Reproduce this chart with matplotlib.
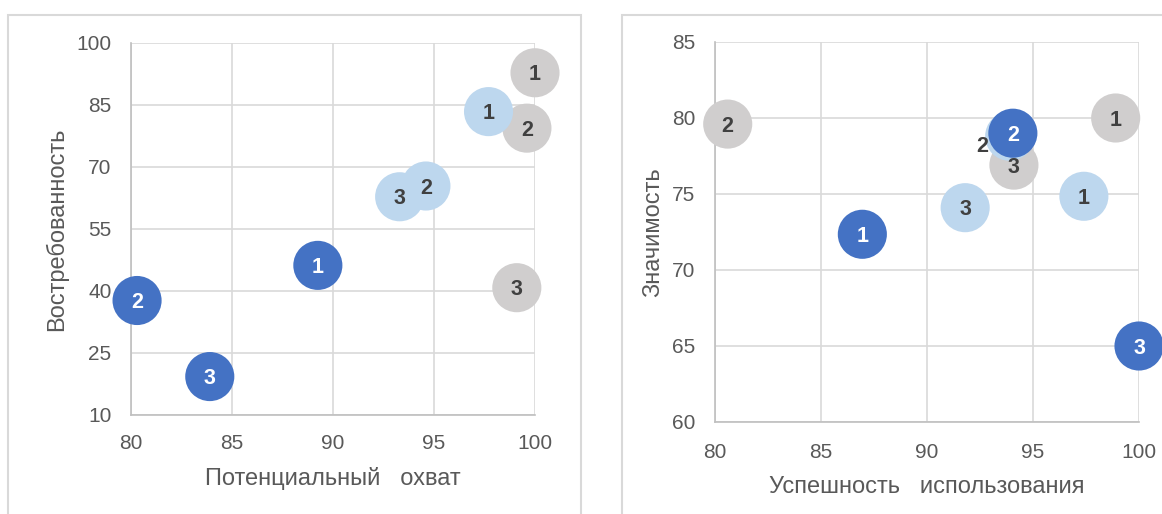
import matplotlib.pyplot as plt
import matplotlib.patches as mpatches

plt.rcParams['font.family'] = ['Liberation Sans', 'DejaVu Sans']

labels = ['1', '2', '3']

# left chart: Потенциальный охват / Востребованность
reach_dark = [89.25, 80.3, 83.9]
demand_dark = [46.2, 37.7, 19.3]
reach_light = [97.7, 94.6, 93.3]
demand_light = [83.4, 65.4, 62.8]
reach_gray = [100.0, 99.6, 99.1]
demand_gray = [92.8, 79.4, 40.8]

# right chart: Успешность использования / Значимость
success_dark = [86.95, 94.05, 100.0]
value_dark = [72.35, 79.0, 65.0]
success_light = [97.4, 93.9, 91.8]
value_light = [74.85, 78.8, 74.1]
success_gray = [98.9, 80.6, 94.1]
value_gray = [80.0, 79.6, 76.9]

dark = '#4472C4'
light = '#BDD7EE'
gray = '#D0CECE'
txt = '#404040'
tick_col = '#595959'

W, H = 1162, 514
fig = plt.figure(figsize=(W / 100, H / 100), dpi=100)

# chart area frames
for x0, x1 in [(8, 581), (622, 1200)]:
    fig.patches.append(mpatches.Rectangle((x0 / W, -0.05), (x1 - x0) / W, 1 - 15 / H + 0.05,
                                          transform=fig.transFigure, fill=False,
                                          edgecolor='#D9D9D9', linewidth=1.5))


def bubble_chart(ax, series, xlim, ylim, xticks, yticks, xlabel, ylabel,
                 xpad, ylpad, xlpad, special=None):
    for xs, ys, col, tc in series:
        ax.scatter(xs, ys, s=1250, marker='o', color=col, edgecolors='none',
                   clip_on=False, zorder=3)
        for i, (x, y) in enumerate(zip(xs, ys)):
            off = (0, -1.5)
            if special and special == (col, i):
                off = (-20, -7.5)
            ax.annotate(labels[i], (x, y), xytext=off, textcoords='offset points',
                        ha='center', va='center', fontsize=15.5, fontweight='bold',
                        color=tc, zorder=4, annotation_clip=False)
    ax.set_xlim(*xlim)
    ax.set_ylim(*ylim)
    ax.set_xticks(xticks)
    ax.set_yticks(yticks)
    ax.grid(True, color='#D9D9D9', linewidth=1.2)
    ax.set_axisbelow(True)
    for s in ['top', 'right']:
        ax.spines[s].set_visible(False)
    for s in ['left', 'bottom']:
        ax.spines[s].set_color('#BFBFBF')
        ax.spines[s].set_linewidth(1.2)
    ax.tick_params(length=0, labelsize=15, labelcolor=tick_col)
    ax.tick_params(axis='y', pad=14)
    ax.tick_params(axis='x', pad=xpad)
    ax.set_xlabel(xlabel, fontsize=17, color=tick_col, labelpad=xlpad)
    ax.set_ylabel(ylabel, fontsize=17, color=tick_col, labelpad=ylpad)


ax1 = fig.add_axes([131 / W, 1 - 415 / H, 404 / W, 372 / H])
bubble_chart(ax1,
             [(reach_gray, demand_gray, gray, txt),
              (reach_light, demand_light, light, txt),
              (reach_dark, demand_dark, dark, 'white')],
             (80, 100), (10, 100), range(80, 101, 5), range(10, 101, 15),
             'Потенциальный   охват', 'Востребованность', 13.5, 6, 10)

ax2 = fig.add_axes([715 / W, 1 - 422 / H, 424 / W, 380 / H])
bubble_chart(ax2,
             [(success_gray, value_gray, gray, txt),
              (success_light, value_light, light, txt),
              (success_dark, value_dark, dark, 'white')],
             (80, 100), (60, 85), range(80, 101, 5), range(60, 86, 5),
             'Успешность   использования', 'Значимость', 15, 6, 10,
             special=(light, 1))

fig.savefig('out.png', dpi=100)
